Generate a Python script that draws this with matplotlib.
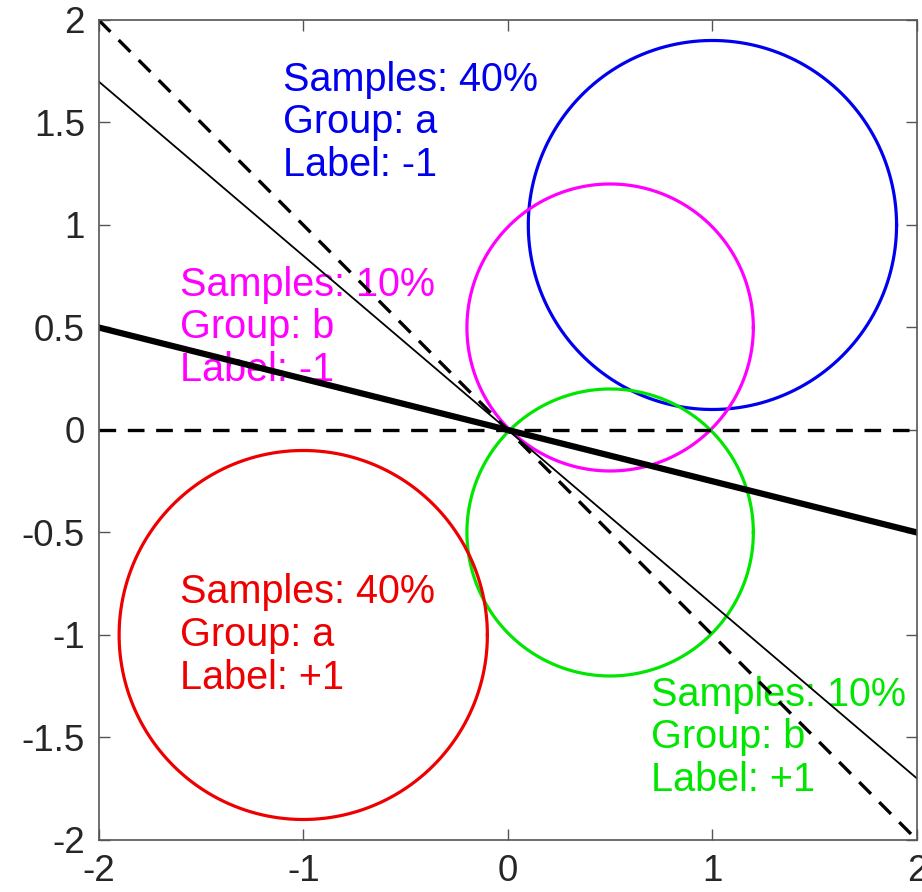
import numpy as np
import matplotlib
matplotlib.use('Agg')
import matplotlib.pyplot as plt

plt.rcParams['font.family'] = ['Liberation Sans', 'DejaVu Sans']
plt.rcParams['axes.unicode_minus'] = False

# circles: center x, center y, radius, colour
cx = [1.0, 0.5, 0.5, -1.0]
cy = [1.0, 0.5, -0.5, -1.0]
radius = [0.9, 0.7, 0.7, 0.9]
colors = ['#0000ee', '#ff00ff', '#00e600', '#ee0000']

# annotations
text_x = [-1.1, -1.6, 0.7, -1.6]
text_y = [1.5, 0.5, -1.5, -1.0]
text_lines = ['Samples: 40%\nGroup: a\nLabel: -1',
              'Samples: 10%\nGroup: b\nLabel: -1',
              'Samples: 10%\nGroup: b\nLabel: +1',
              'Samples: 40%\nGroup: a\nLabel: +1']

# boundary lines, slopes through origin
line_x = [-2, 2]
slope_dashed = -1.0
slope_thin = -0.85
slope_thick = -0.25

fig = plt.figure(figsize=(9.22, 8.92), dpi=100)
ax = fig.add_axes([0.107, 0.0583, 0.8876, 0.9193])

t = np.linspace(0, 2 * np.pi, 200)
for x0, y0, r, c in zip(cx, cy, radius, colors):
    ax.plot(x0 + r * np.cos(t), y0 + r * np.sin(t), color=c, lw=2.3)

lx = np.array(line_x)
ax.plot(lx, slope_dashed * lx, 'k--', lw=2.4, dashes=(5, 3.5))
ax.plot(lx, 0 * lx, 'k--', lw=2.4, dashes=(5, 3.5))
ax.plot(lx, slope_thin * lx, 'k-', lw=1.3)
ax.plot(lx, slope_thick * lx, 'k-', lw=4.5)

for x, y, s, c in zip(text_x, text_y, text_lines, colors):
    ax.text(x, y, s, color=c, fontsize=28.5, ha='left', va='center',
            linespacing=1.16, zorder=1)

ax.set_xlim(-2, 2)
ax.set_ylim(-2, 2)
ax.set_xticks([-2, -1, 0, 1, 2])
ax.set_yticks([-2, -1.5, -1, -0.5, 0, 0.5, 1, 1.5, 2])
ax.set_yticklabels(['-2', '-1.5', '-1', '-0.5', '0', '0.5', '1', '1.5', '2'])
ax.tick_params(direction='in', length=8, width=1, top=True, right=True,
               labelsize=26.5, colors='#555555', labelcolor='#262626', pad=10)
for sp in ax.spines.values():
    sp.set_color('#555555')
    sp.set_linewidth(1.2)

fig.savefig('out.png', dpi=100)
